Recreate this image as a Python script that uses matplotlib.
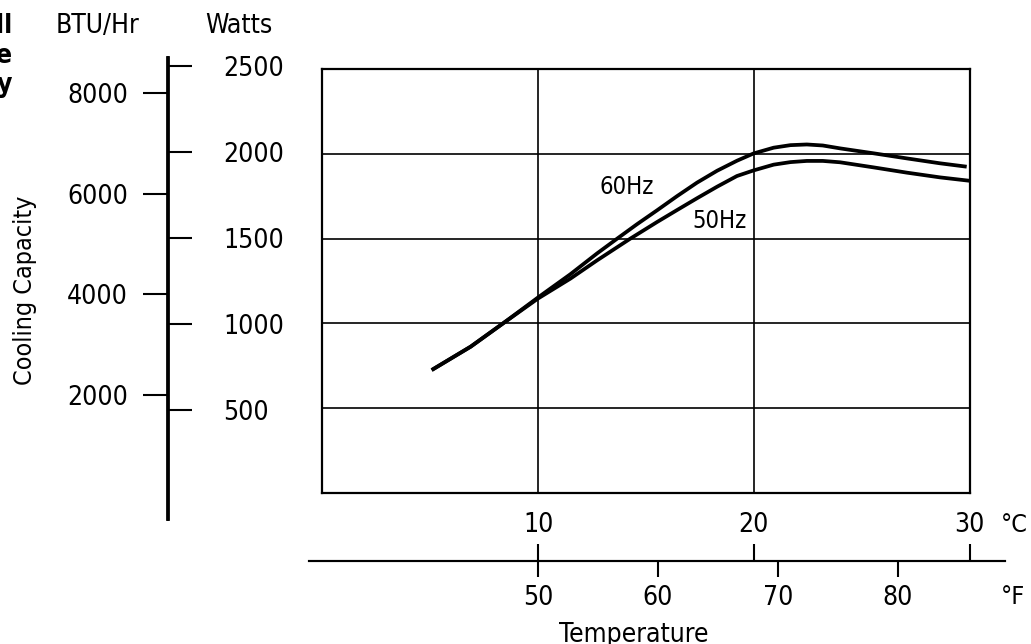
"""
Cooling capacity vs ambient temperature, 50 Hz and 60 Hz units.
Dual capacity scale (BTU/Hr, Watts) on the left, dual temperature scale (°C, °F) below.
"""
import matplotlib
matplotlib.use("Agg")
import matplotlib.pyplot as plt

W, H = 1031, 644

# values (°C, Watts)
temp_60 = [5.07, 6.88, 8.42, 9.99, 11.5, 12.74, 13.67, 14.59, 15.52, 16.44, 17.37, 18.3,
           19.22, 19.99, 20.92, 21.7, 22.46, 23.2, 24.0, 25.55, 27.09, 28.63, 29.87]
cap_60 = [725, 863, 1004, 1152, 1290, 1413, 1500, 1585, 1667, 1750, 1830, 1900,
          1959, 2002, 2036, 2051, 2055, 2049, 2032, 2003, 1973, 1944, 1924]
temp_50 = [5.07, 6.88, 8.42, 9.99, 11.5, 12.74, 14.28, 15.52, 16.44, 17.37, 18.3,
           19.22, 19.99, 20.92, 21.7, 22.46, 23.2, 24.0, 25.55, 27.09, 28.63, 30.0]
cap_50 = [725, 863, 1004, 1146, 1264, 1372, 1500, 1598, 1668, 1738, 1806,
          1869, 1902, 1936, 1951, 1958, 1958, 1950, 1920, 1889, 1861, 1841]

watts_ticks = [500, 1000, 1500, 2000, 2500]
btu_ticks = [2000, 4000, 6000, 8000]
c_ticks = [10, 20, 30]
f_ticks = [50, 60, 70, 80]

plt.rcParams["font.family"] = ["DejaVu Sans"]
plt.rcParams["font.stretch"] = "condensed"
FS = 19


def box(l, t, r, b):
    """pixel box (left, top, right, bottom) -> figure fraction rect"""
    return [l / W, 1 - b / H, (r - l) / W, (b - t) / H]


def fx(x):
    return x / W


def fy(y):
    return 1 - y / H


fig = plt.figure(figsize=(W / 100, H / 100), dpi=100)

# main plot
ax = fig.add_axes(box(322.3, 69, 969.5, 493))
for t, c in [(temp_60, cap_60), (temp_50, cap_50)]:
    ax.plot(t, c, color="black", lw=2.7, solid_capstyle="butt", solid_joinstyle="round")
ax.set_xlim(0, 30)
ax.set_ylim(0, 2500)
ax.set_xticks(c_ticks[:-1])
ax.set_yticks(watts_ticks[:-1])
ax.grid(True, color="black", lw=1.2)
ax.tick_params(length=0, labelbottom=False, labelleft=False)
for s in ax.spines.values():
    s.set_linewidth(1.6)
ax.text(14.1, 1807, "60Hz", ha="center", va="center", fontsize=17)
ax.text(18.4, 1604, "50Hz", ha="center", va="center", fontsize=17)

# left capacity scale: Watts ticks to the right, BTU/Hr ticks to the left
axL = fig.add_axes(box(167, 56.7, 167.5, 519.3))
axL.patch.set_visible(False)
axL.set_ylim(-137, 2557)
axL.xaxis.set_visible(False)
axL.yaxis.tick_right()
axL.set_yticks(watts_ticks)
axL.tick_params(axis="y", direction="out", length=17, width=1.5, pad=23, labelsize=FS)
for side in ["left", "top", "bottom"]:
    axL.spines[side].set_visible(False)
axL.spines["right"].set_linewidth(2)

btu = axL.secondary_yaxis("left", functions=(lambda w: w * 3.412, lambda b: b / 3.412))
btu.set_yticks(btu_ticks)
btu.tick_params(direction="out", length=17, width=1.5, pad=11, labelsize=FS)
btu.spines["left"].set_linewidth(2)

# temperature scale: °C above the line, °F below
axT = fig.add_axes(box(309, 559.5, 1005, 560.5))
axT.patch.set_visible(False)
axT.set_xlim(-0.62, 31.64)
axT.yaxis.set_visible(False)
axT.xaxis.tick_top()
axT.set_xticks(c_ticks)
axT.tick_params(axis="x", direction="out", length=11.5, width=1.5, pad=3.7, labelsize=FS)
for side in ["left", "right", "top"]:
    axT.spines[side].set_visible(False)
axT.spines["bottom"].set_linewidth(1.5)

fah = axT.secondary_xaxis("bottom", functions=(lambda c: c * 9 / 5 + 32, lambda f: (f - 32) * 5 / 9))
fah.set_xticks(f_ticks)
fah.tick_params(direction="out", length=11.5, width=1.5, pad=6, labelsize=FS)
fah.spines["bottom"].set_linewidth(1.5)

# labels
fig.text(fx(97), fy(32.7), "BTU/Hr", ha="center", va="baseline", fontsize=FS)
fig.text(fx(238.5), fy(32.7), "Watts", ha="center", va="baseline", fontsize=FS)
fig.text(fx(25), fy(290), "Cooling Capacity", rotation=90, ha="center", va="center", fontsize=18)
fig.text(fx(1001), fy(532), "°C", ha="left", va="baseline", fontsize=18)
fig.text(fx(1001), fy(604), "°F", ha="left", va="baseline", fontsize=18)
fig.text(fx(634), fy(642), "Temperature", ha="center", va="baseline", fontsize=FS)

# caption cut off at the left edge
for txt, base in [("ll", 33), ("e", 63), ("cy", 92)]:
    fig.text(fx(12), fy(base), txt, ha="right", va="baseline", fontsize=FS, fontweight="bold")

fig.savefig("out.png", dpi=100)
